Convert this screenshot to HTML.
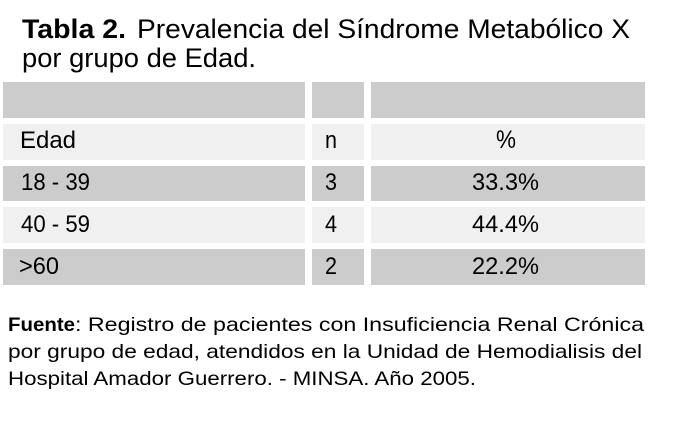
<!DOCTYPE html>
<html>
<head>
<meta charset="utf-8">
<style>
  html, body { margin:0; padding:0; background:#fff; }
  svg { display:block; }
  text { font-family: "Liberation Sans", Arial, sans-serif; fill:#000; }
</style>
</head>
<body>
<svg width="675" height="447" viewBox="0 0 675 447" xmlns="http://www.w3.org/2000/svg">
  <rect x="0" y="0" width="675" height="447" fill="#ffffff"/>

  <!-- Title -->
  <text x="22" y="38" font-size="27" font-weight="bold" textLength="104" lengthAdjust="spacingAndGlyphs">Tabla 2.</text>
  <text x="137" y="38" font-size="27" textLength="493" lengthAdjust="spacingAndGlyphs">Prevalencia del Síndrome Metabólico X</text>
  <text x="22" y="67" font-size="27" textLength="234" lengthAdjust="spacingAndGlyphs">por grupo de Edad.</text>

  <!-- Table row 1 (header blank) -->
  <rect x="3" y="82" width="302" height="36" fill="#cccccc"/>
  <rect x="312" y="82" width="52" height="36" fill="#cccccc"/>
  <rect x="371" y="82" width="274" height="36" fill="#cccccc"/>

  <!-- Row 2 -->
  <rect x="3" y="124" width="302" height="36" fill="#f0f0f0"/>
  <rect x="312" y="124" width="52" height="36" fill="#f0f0f0"/>
  <rect x="371" y="124" width="274" height="36" fill="#f0f0f0"/>

  <!-- Row 3 -->
  <rect x="3" y="166" width="302" height="35" fill="#cccccc"/>
  <rect x="312" y="166" width="52" height="35" fill="#cccccc"/>
  <rect x="371" y="166" width="274" height="35" fill="#cccccc"/>

  <!-- Row 4 -->
  <rect x="3" y="207" width="302" height="36" fill="#f0f0f0"/>
  <rect x="312" y="207" width="52" height="36" fill="#f0f0f0"/>
  <rect x="371" y="207" width="274" height="36" fill="#f0f0f0"/>

  <!-- Row 5 -->
  <rect x="3" y="249" width="302" height="36" fill="#cccccc"/>
  <rect x="312" y="249" width="52" height="36" fill="#cccccc"/>
  <rect x="371" y="249" width="274" height="36" fill="#cccccc"/>

  <!-- Table text -->
  <g font-size="24">
    <text x="20" y="148" textLength="56" lengthAdjust="spacingAndGlyphs">Edad</text>
    <text x="325" y="148" textLength="12" lengthAdjust="spacingAndGlyphs">n</text>
    <text x="496" y="148" font-size="25" textLength="20" lengthAdjust="spacingAndGlyphs">%</text>

    <text x="21" y="190" textLength="69" lengthAdjust="spacingAndGlyphs">18 - 39</text>
    <text x="325" y="190" textLength="12" lengthAdjust="spacingAndGlyphs">3</text>
    <text x="472" y="190" textLength="67" lengthAdjust="spacingAndGlyphs">33.3%</text>

    <text x="21" y="232" textLength="69" lengthAdjust="spacingAndGlyphs">40 - 59</text>
    <text x="325" y="232" textLength="12" lengthAdjust="spacingAndGlyphs">4</text>
    <text x="472" y="232" textLength="67" lengthAdjust="spacingAndGlyphs">44.4%</text>

    <text x="19" y="274" textLength="40" lengthAdjust="spacingAndGlyphs">&gt;60</text>
    <text x="325" y="274" textLength="12" lengthAdjust="spacingAndGlyphs">2</text>
    <text x="472" y="274" textLength="67" lengthAdjust="spacingAndGlyphs">22.2%</text>
  </g>

  <!-- Source note -->
  <text x="8" y="331" font-size="19.5" font-weight="bold" textLength="67" lengthAdjust="spacingAndGlyphs">Fuente</text>
  <text x="75" y="331" font-size="19.5" textLength="569" lengthAdjust="spacingAndGlyphs">: Registro de pacientes con Insuficiencia Renal Crónica</text>
  <text x="8" y="358" font-size="19.5" textLength="634" lengthAdjust="spacingAndGlyphs">por grupo de edad, atendidos en la Unidad de Hemodialisis del</text>
  <text x="8" y="385" font-size="19.5" textLength="468" lengthAdjust="spacingAndGlyphs">Hospital Amador Guerrero. - MINSA. Año 2005.</text>
</svg>
</body>
</html>
